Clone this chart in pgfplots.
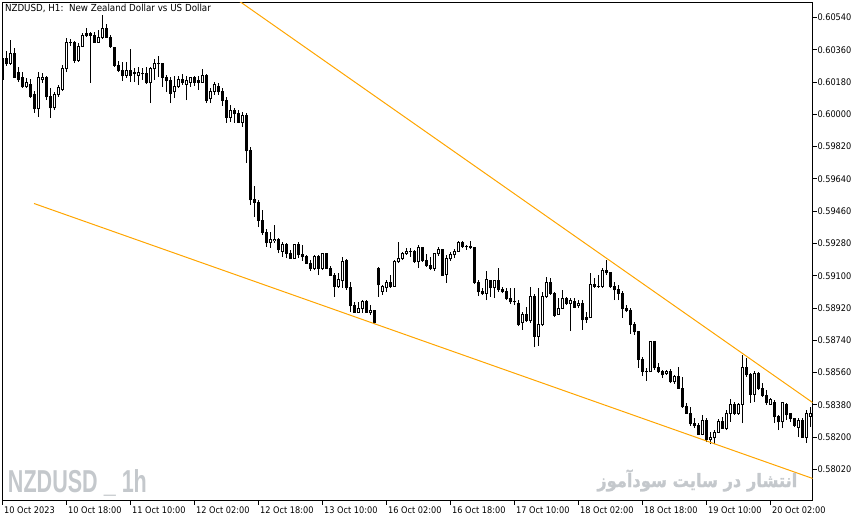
\documentclass[border=0pt]{standalone}
\usepackage{pgfplots}
\pgfplotsset{compat=1.18}
\usepackage{pgfplotstable}
\usepackage{graphicx}
\usepackage{fontspec}
\setmainfont{DejaVu Sans}[FakeStretch=0.9]
\newfontfamily\wmfont{Liberation Sans}
\newfontfamily\arabicfont[Script=Arabic, BoldFeatures={FakeBold=1.5}]{DejaVu Sans}
\TeXXeTstate=1
\definecolor{mtorange}{RGB}{255,165,0}
\definecolor{wmgray}{RGB}{196,200,204}

% hourly bars: index, open, high, low, close
\pgfplotstableread{
n o h l c
0 0.60314 0.60359 0.60192 0.60197
1 0.60309 0.60353 0.60270 0.60281
2 0.60286 0.60415 0.60275 0.60337
3 0.60342 0.60370 0.60203 0.60208
4 0.60236 0.60264 0.60180 0.60192
5 0.60208 0.60236 0.60147 0.60153
6 0.60153 0.60203 0.60147 0.60175
7 0.60164 0.60197 0.60091 0.60097
8 0.60108 0.60130 0.60008 0.60030
9 0.60030 0.60236 0.59985 0.60208
10 0.60192 0.60231 0.60175 0.60208
11 0.60203 0.60214 0.60080 0.60097
12 0.60097 0.60147 0.59980 0.60036
13 0.60036 0.60125 0.60024 0.60108
14 0.60108 0.60164 0.60097 0.60147
15 0.60141 0.60275 0.60130 0.60253
16 0.60253 0.60426 0.60236 0.60403
17 0.60403 0.60420 0.60381 0.60398
18 0.60398 0.60409 0.60286 0.60303
19 0.60303 0.60398 0.60292 0.60376
20 0.60381 0.60454 0.60376 0.60437
21 0.60448 0.60481 0.60431 0.60437
22 0.60442 0.60459 0.60175 0.60448
23 0.60442 0.60459 0.60398 0.60403
24 0.60403 0.60470 0.60398 0.60426
25 0.60426 0.60554 0.60420 0.60481
26 0.60481 0.60504 0.60426 0.60431
27 0.60431 0.60442 0.60370 0.60376
28 0.60370 0.60376 0.60264 0.60275
29 0.60275 0.60298 0.60236 0.60247
30 0.60247 0.60292 0.60186 0.60214
31 0.60219 0.60292 0.60203 0.60242
32 0.60242 0.60364 0.60180 0.60219
33 0.60225 0.60258 0.60180 0.60231
34 0.60219 0.60264 0.60164 0.60231
35 0.60225 0.60258 0.60192 0.60225
36 0.60225 0.60264 0.60169 0.60175
37 0.60175 0.60264 0.60063 0.60253
38 0.60253 0.60309 0.60192 0.60281
39 0.60281 0.60325 0.60208 0.60281
40 0.60281 0.60286 0.60153 0.60208
41 0.60208 0.60219 0.60125 0.60186
42 0.60186 0.60208 0.60063 0.60119
43 0.60125 0.60214 0.60091 0.60158
44 0.60153 0.60214 0.60147 0.60197
45 0.60197 0.60225 0.60164 0.60180
46 0.60169 0.60214 0.60080 0.60186
47 0.60180 0.60208 0.60153 0.60203
48 0.60203 0.60214 0.60158 0.60180
49 0.60186 0.60214 0.60136 0.60180
50 0.60180 0.60253 0.60175 0.60219
51 0.60219 0.60225 0.60063 0.60080
52 0.60086 0.60147 0.60063 0.60130
53 0.60130 0.60180 0.60108 0.60164
54 0.60158 0.60175 0.60108 0.60125
55 0.60125 0.60147 0.60047 0.60080
56 0.60080 0.60097 0.59952 0.59985
57 0.59985 0.60052 0.59957 0.60024
58 0.60024 0.60036 0.59952 0.60002
59 0.60002 0.60024 0.59952 0.59957
60 0.59957 0.60013 0.59930 0.59996
61 0.59996 0.60008 0.59729 0.59796
62 0.59796 0.59818 0.59495 0.59523
63 0.59528 0.59601 0.59428 0.59511
64 0.59511 0.59523 0.59372 0.59411
65 0.59411 0.59467 0.59327 0.59344
66 0.59344 0.59361 0.59261 0.59283
67 0.59283 0.59344 0.59255 0.59300
68 0.59294 0.59383 0.59283 0.59305
69 0.59305 0.59311 0.59227 0.59244
70 0.59238 0.59288 0.59205 0.59272
71 0.59272 0.59283 0.59199 0.59227
72 0.59227 0.59244 0.59194 0.59199
73 0.59199 0.59277 0.59194 0.59272
74 0.59272 0.59288 0.59199 0.59216
75 0.59216 0.59272 0.59183 0.59205
76 0.59205 0.59216 0.59171 0.59171
77 0.59171 0.59188 0.59127 0.59143
78 0.59143 0.59216 0.59132 0.59210
79 0.59210 0.59216 0.59104 0.59143
80 0.59143 0.59227 0.59132 0.59222
81 0.59222 0.59227 0.59138 0.59143
82 0.59143 0.59155 0.59099 0.59104
83 0.59104 0.59116 0.58982 0.59038
84 0.59038 0.59116 0.59032 0.59077
85 0.59071 0.59205 0.59032 0.59177
86 0.59183 0.59194 0.59021 0.59032
87 0.59032 0.59065 0.58898 0.58932
88 0.58932 0.58954 0.58893 0.58898
89 0.58898 0.58954 0.58893 0.58920
90 0.58920 0.58965 0.58893 0.58954
91 0.58954 0.58965 0.58893 0.58898
92 0.58893 0.58937 0.58881 0.58909
93 0.58904 0.58904 0.58831 0.58837
94 0.59143 0.59149 0.58982 0.59049
95 0.59015 0.59049 0.58993 0.59038
96 0.59032 0.59077 0.59010 0.59065
97 0.59065 0.59104 0.59032 0.59038
98 0.59043 0.59188 0.59038 0.59177
99 0.59177 0.59288 0.59171 0.59199
100 0.59199 0.59233 0.59188 0.59222
101 0.59222 0.59255 0.59216 0.59233
102 0.59233 0.59255 0.59205 0.59233
103 0.59233 0.59244 0.59171 0.59177
104 0.59177 0.59272 0.59143 0.59255
105 0.59255 0.59261 0.59177 0.59183
106 0.59183 0.59222 0.59149 0.59155
107 0.59155 0.59205 0.59132 0.59143
108 0.59143 0.59227 0.59127 0.59222
109 0.59222 0.59261 0.59210 0.59244
110 0.59244 0.59249 0.59099 0.59104
111 0.59110 0.59216 0.59060 0.59199
112 0.59194 0.59233 0.59183 0.59216
113 0.59216 0.59249 0.59199 0.59238
114 0.59238 0.59294 0.59233 0.59288
115 0.59283 0.59294 0.59255 0.59266
116 0.59266 0.59272 0.59244 0.59261
117 0.59266 0.59294 0.59249 0.59255
118 0.59255 0.59255 0.59054 0.59065
119 0.59065 0.59077 0.58987 0.59010
120 0.59010 0.59032 0.58993 0.58999
121 0.59004 0.59127 0.58965 0.59077
122 0.59071 0.59071 0.58982 0.59032
123 0.59032 0.59077 0.58976 0.59071
124 0.59071 0.59143 0.59010 0.59021
125 0.59021 0.59038 0.59004 0.59010
126 0.59010 0.59032 0.58965 0.58976
127 0.58976 0.59032 0.58943 0.58954
128 0.58954 0.59032 0.58937 0.58954
129 0.58948 0.58965 0.58820 0.58831
130 0.58837 0.58898 0.58798 0.58887
131 0.58887 0.58926 0.58842 0.58848
132 0.58848 0.59038 0.58837 0.58987
133 0.58987 0.58999 0.58703 0.58764
134 0.58764 0.59032 0.58709 0.58826
135 0.58826 0.59010 0.58820 0.58982
136 0.58982 0.59093 0.58976 0.59065
137 0.59065 0.59088 0.58993 0.59004
138 0.59004 0.59010 0.58870 0.58881
139 0.58887 0.58976 0.58881 0.58920
140 0.58920 0.59021 0.58920 0.58976
141 0.58976 0.58982 0.58937 0.58948
142 0.58943 0.58976 0.58792 0.58960
143 0.58954 0.58976 0.58920 0.58926
144 0.58932 0.58965 0.58920 0.58948
145 0.58948 0.58965 0.58798 0.58854
146 0.58870 0.58898 0.58837 0.58859
147 0.58865 0.59116 0.58865 0.59054
148 0.59049 0.59088 0.59032 0.59043
149 0.59043 0.59104 0.59032 0.59043
150 0.59043 0.59143 0.59032 0.59132
151 0.59132 0.59188 0.59104 0.59116
152 0.59116 0.59121 0.59032 0.59038
153 0.59038 0.59065 0.58965 0.59021
154 0.59021 0.59049 0.58965 0.59004
155 0.59004 0.59015 0.58865 0.58920
156 0.58920 0.58937 0.58898 0.58904
157 0.58904 0.58920 0.58776 0.58826
158 0.58826 0.58842 0.58770 0.58787
159 0.58787 0.58792 0.58586 0.58636
160 0.58636 0.58647 0.58541 0.58569
161 0.58569 0.58586 0.58514 0.58564
162 0.58564 0.58737 0.58564 0.58731
163 0.58731 0.58737 0.58575 0.58586
164 0.58586 0.58614 0.58558 0.58564
165 0.58564 0.58575 0.58530 0.58547
166 0.58553 0.58575 0.58547 0.58564
167 0.58564 0.58580 0.58502 0.58508
168 0.58508 0.58547 0.58497 0.58536
169 0.58536 0.58592 0.58469 0.58474
170 0.58474 0.58536 0.58363 0.58369
171 0.58369 0.58391 0.58335 0.58335
172 0.58335 0.58369 0.58263 0.58274
173 0.58274 0.58307 0.58251 0.58263
174 0.58263 0.58279 0.58212 0.58218
175 0.58218 0.58324 0.58212 0.58296
176 0.58296 0.58307 0.58173 0.58185
177 0.58185 0.58229 0.58162 0.58201
178 0.58196 0.58240 0.58162 0.58229
179 0.58229 0.58302 0.58224 0.58290
180 0.58290 0.58313 0.58246 0.58251
181 0.58251 0.58352 0.58240 0.58335
182 0.58335 0.58413 0.58285 0.58380
183 0.58380 0.58396 0.58324 0.58335
184 0.58335 0.58391 0.58324 0.58385
185 0.58385 0.58658 0.58279 0.58586
186 0.58586 0.58642 0.58536 0.58547
187 0.58547 0.58558 0.58391 0.58441
188 0.58441 0.58569 0.58396 0.58558
189 0.58558 0.58564 0.58463 0.58474
190 0.58474 0.58502 0.58424 0.58435
191 0.58435 0.58463 0.58380 0.58391
192 0.58385 0.58419 0.58380 0.58413
193 0.58396 0.58408 0.58279 0.58313
194 0.58318 0.58324 0.58240 0.58285
195 0.58285 0.58396 0.58251 0.58391
196 0.58385 0.58391 0.58296 0.58324
197 0.58330 0.58330 0.58285 0.58302
198 0.58302 0.58307 0.58257 0.58268
199 0.58257 0.58307 0.58201 0.58296
200 0.58296 0.58307 0.58196 0.58201
201 0.58201 0.58352 0.58168 0.58335
202 0.58318 0.58369 0.58257 0.58330
}\candles

\begin{document}
\begin{tikzpicture}
\useasboundingbox (-2.2pt,-21.5pt) rectangle (863.8pt,500.5pt);
\begin{axis}[
  at={(0pt,0pt)}, anchor=south west,
  scale only axis, width=810.5pt, height=497.8pt,
  xmin=-0.125, xmax=202.5,
  ymin=0.578473, ymax=0.606225,
  axis line style={black, line width=1pt},
  xtick={0,16,...,192},
  xticklabels={10 Oct 2023,10 Oct 18:00,11 Oct 10:00,12 Oct 02:00,12 Oct 18:00,13 Oct 10:00,16 Oct 02:00,16 Oct 18:00,17 Oct 10:00,18 Oct 02:00,18 Oct 18:00,19 Oct 10:00,20 Oct 02:00},
  ytick={0.5802,0.582,0.5838,0.5856,0.5874,0.5892,0.591,0.5928,0.5946,0.5964,0.5982,0.6,0.6018,0.6036,0.6054},
  yticklabels={0.58020,0.58200,0.58380,0.58560,0.58740,0.58920,0.59100,0.59280,0.59460,0.59640,0.59820,0.60000,0.60180,0.60360,0.60540},
  xtick pos=left, ytick pos=right, yticklabel pos=right,
  tick align=outside, major tick length=4pt,
  tick style={black, line width=1pt},
  xticklabel style={anchor=north west, inner sep=0pt, xshift=1.2pt, yshift=-2.2pt, font=\fontsize{9.1}{11}\selectfont},
  yticklabel style={anchor=west, inner sep=0pt, xshift=0.6pt, font=\fontsize{9.1}{11}\selectfont},
  unbounded coords=discard,
]
% wicks: low to high
\addplot[draw=none, mark=none, forget plot,
  error bars/.cd, y dir=plus, y explicit, error mark=none,
  error bar style={draw=black, line width=1pt}]
  table[x=n, y=l, y error expr={\thisrow{h}-\thisrow{l}}] {\candles};
% bodies: black block, half a pixel beyond open and close
\addplot[draw=none, mark=none, forget plot,
  error bars/.cd, y dir=plus, y explicit, error mark=none,
  error bar style={draw=black, line width=3pt}]
  table[x=n, y expr={min(\thisrow{o},\thisrow{c})-0.0000279},
        y error expr={abs(\thisrow{o}-\thisrow{c})+0.0000557}] {\candles};
% white inside of rising bars
\addplot[draw=none, mark=none, forget plot,
  error bars/.cd, y dir=plus, y explicit, error mark=none,
  error bar style={draw=white, line width=1pt}]
  table[x=n, y expr={(\thisrow{c}-\thisrow{o}>0.00006) ? \thisrow{o}+0.0000279 : nan},
        y error expr={\thisrow{c}-\thisrow{o}-0.0000557}] {\candles};
% trend lines
\addplot[mtorange, line width=1pt, no marks] coordinates {(58.7,0.60638) (202.5,0.58393)};
\addplot[mtorange, line width=1pt, no marks] coordinates {(7.83,0.59503) (202.5,0.57970)};
\end{axis}
\node[anchor=north west, inner sep=0pt, font=\fontsize{9.7}{11}\selectfont] at (2.6pt,496.2pt) {NZDUSD, H1:\ \ New Zealand Dollar vs US Dollar};
\node[anchor=base west, inner sep=0pt, text=wmgray] at (5.6pt,7.8pt) {\scalebox{0.68}[1]{\wmfont\bfseries\fontsize{31.7}{34}\selectfont NZDUSD \_ 1h}};
\node[anchor=base east, inner sep=0pt, text=wmgray] at (795.3pt,13.5pt) {\resizebox{200pt}{17.5pt}{\arabicfont\bfseries\fontsize{18}{20}\selectfont\beginR انتشار در سایت سودآموز\endR}};
\end{tikzpicture}
\end{document}
